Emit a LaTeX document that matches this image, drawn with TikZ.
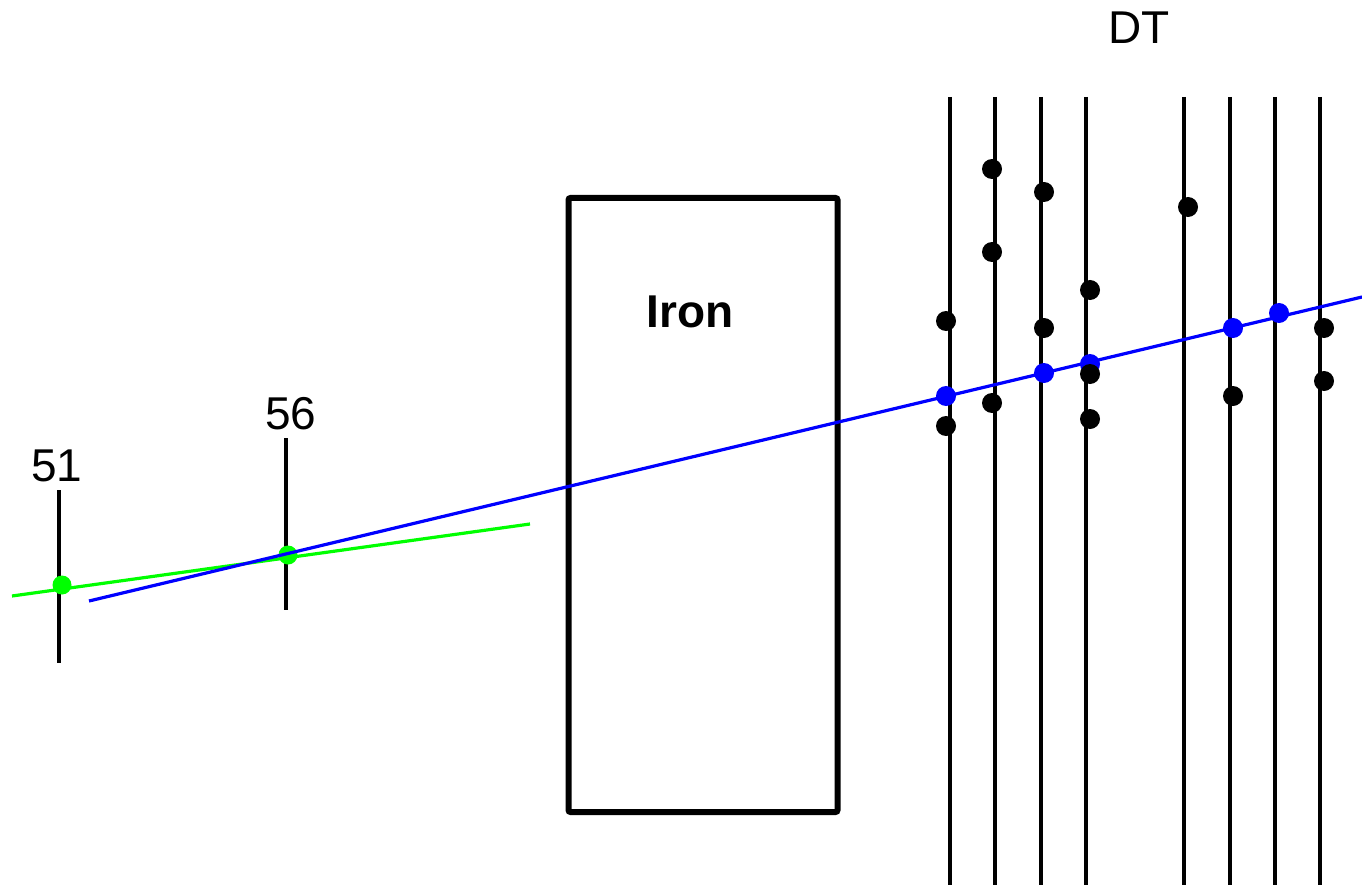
\documentclass[tikz,border=0pt]{standalone}
\usepackage{fontspec}
\setmainfont{Liberation Sans}
\begin{document}
\begin{tikzpicture}[x=1pt,y=-1pt,
  wire/.style={line width=3.2pt, black},
  hit/.style={circle, fill=black, inner sep=0pt, minimum size=20pt},
  bhit/.style={circle, fill=blue, inner sep=0pt, minimum size=20pt},
  ghit/.style={circle, fill=green, inner sep=0pt, minimum size=19pt},
  lbl/.style={font=\fontsize{46}{50}\selectfont, inner sep=0pt},
  track/.style={line width=3.2pt, blue},
  gtrack/.style={line width=3.2pt, green}]
\useasboundingbox (0,0) rectangle (1362,885);
% DT wires
\foreach \i/\x in {1/950,2/995,3/1041,4/1086,5/1184,6/1230,7/1275,8/1320}{
  \coordinate (wt\i) at (\x,97);
  \coordinate (wb\i) at (\x,885);
  \draw[wire] (wt\i) -- (wb\i);
}
\node[lbl] (dt) at (1139,28) {DT};
% Iron box
\node[draw, line width=6pt, rounded corners=2pt, minimum width=269pt, minimum height=614pt, inner sep=0pt] (iron) at (703,505) {};
\node[lbl, font=\fontsize{46}{50}\selectfont\bfseries] (ironlbl) at (690,312) {Iron};
% stations
\coordinate (s51t) at (59,490); \coordinate (s51b) at (59,663);
\coordinate (s56t) at (286,438); \coordinate (s56b) at (286,610);
\draw[wire] (s51t) -- (s51b);
\draw[wire] (s56t) -- (s56b);
\node[lbl] (l51) at (57,466) {51};
\node[lbl] (l56) at (291,414) {56};
% green track and hits
\coordinate (gs) at (12,596);
\coordinate (ge) at (530,524);
\draw[gtrack] (gs) -- (ge);
\node[ghit] (g51) at (62,585) {};
\node[ghit] (g56) at (288,555) {};
% blue track
\coordinate (bs) at (89,601);
\coordinate (be) at (1362,297);
\draw[track] (bs) -- (be);
% blue hits
\foreach \n/\x/\y in {a/946/396,b/1044/373,c/1090/364,d/1233/328,e/1279/313}{
  \node[bhit] (b\n) at (\x,\y) {};
}
% black hits
\foreach \n/\x/\y in {a/992/169,b/1044/192,c/1188/207,d/992/252,e/1090/290,f/946/321,g/1044/328,h/1090/374,i/1090/419,j/992/403,k/946/426,l/1233/396,m/1324/328,n/1324/381}{
  \node[hit] (h\n) at (\x,\y) {};
}
\end{tikzpicture}
\end{document}
